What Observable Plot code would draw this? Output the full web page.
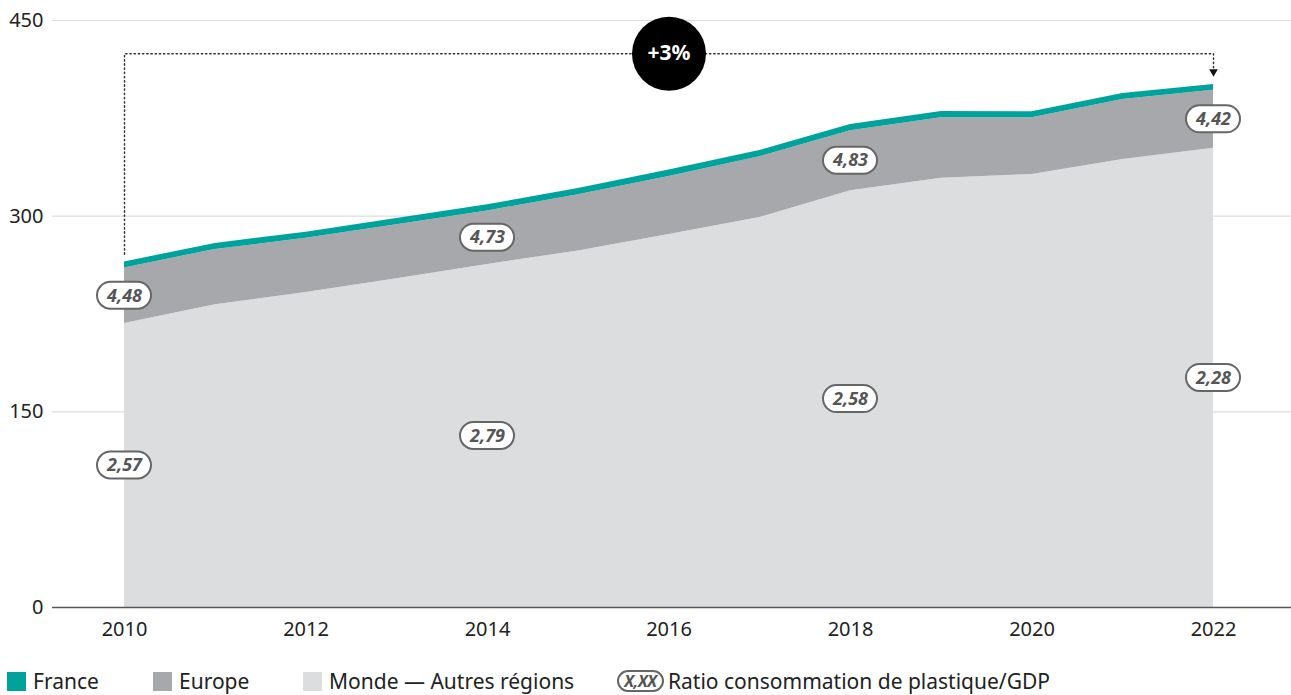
<!DOCTYPE html>
<html>
<head>
<meta charset="utf-8">
<script src="https://cdn.jsdelivr.net/npm/d3@7"></script>
<script src="https://cdn.jsdelivr.net/npm/@observablehq/plot@0.6"></script>
<style>
  body { margin: 0; background: #fff; font-family: "Noto Sans", sans-serif; }
  #chart svg { display: block; }
  #legend { position: relative; height: 45px; font-size: 21px; color: #222; }
  .item { position: absolute; top: 20px; height: 22px; display: flex; align-items: center; white-space: nowrap; }
  .sw { width: 19px; height: 19px; margin-right: 7px; }
  .pill { display: inline-flex; align-items: center; justify-content: center; box-sizing: border-box; width: 47px; height: 22px; border: 2px solid #666; border-radius: 12px; font-weight: bold; font-style: italic; color: #555; font-size: 16px; margin-right: 4px; letter-spacing: -0.3px; }
</style>
</head>
<body>
<div id="chart"></div>
<div id="legend"></div>
<script>
const years   = [2010, 2011, 2012, 2013, 2014, 2015, 2016, 2017, 2018, 2019, 2020, 2021, 2022];
const monde   = [217.7, 232, 241.5, 252, 263, 273.3, 286, 299, 319.5, 329, 332, 343.5, 352];
const europe  = [42.6, 42.5, 41.5, 41.5, 41, 43.2, 44.5, 46.5, 46, 46.5, 43.5, 46, 44.5];
const france  = [4.6, 4.6, 4.7, 4.7, 4.7, 4.7, 4.8, 4.8, 4.8, 4.8, 4.6, 4.6, 4.5];

const labelYears   = [2010, 2014, 2018, 2022];
const europeRatios = ["4,48", "4,73", "4,83", "4,42"];
const mondeRatios  = ["2,57", "2,79", "2,58", "2,28"];

const regions = ["Monde — Autres régions", "Europe", "France"];
const colors  = ["#dcdddf", "#a7a8ab", "#00a39b"];

const yTicks = [0, 150, 300, 450];
const xTicks = [2010, 2012, 2014, 2016, 2018, 2020, 2022];

const growthLabel = "+3%";
const bracketLevel = 424.5;
const growthYear = 2016;

// build long table
const data = [];
years.forEach((yr, i) => {
  data.push({year: yr, region: regions[0], value: monde[i]});
  data.push({year: yr, region: regions[1], value: europe[i]});
  data.push({year: yr, region: regions[2], value: france[i]});
});

const totals = years.map((_, i) => monde[i] + europe[i] + france[i]);

const labels = [];
labelYears.forEach((yr, k) => {
  const i = years.indexOf(yr);
  labels.push({year: yr, y: monde[i] + europe[i] / 2, label: europeRatios[k]});
  labels.push({year: yr, y: monde[i] / 2, label: mondeRatios[k]});
});

const first = 0, last = years.length - 1;
const bracket = [
  {x: years[first], y: totals[first] + 6},
  {x: years[first], y: bracketLevel},
  {x: years[last], y: bracketLevel},
  {x: years[last], y: totals[last] + 12}
];

function pillRender(w, h) {
  return function(index, scales, values, dimensions, context, next) {
    const g = next(index, scales, values, dimensions, context);
    const ns = "http://www.w3.org/2000/svg";
    const grp = document.createElementNS(ns, "g");
    for (const i of index) {
      const r = document.createElementNS(ns, "rect");
      r.setAttribute("x", values.x[i] - w / 2);
      r.setAttribute("y", values.y[i] - h / 2);
      r.setAttribute("width", w);
      r.setAttribute("height", h);
      r.setAttribute("rx", h / 2);
      r.setAttribute("fill", "#fff");
      r.setAttribute("stroke", "#666");
      r.setAttribute("stroke-width", 2);
      grp.appendChild(r);
    }
    const wrap = document.createElementNS(ns, "g");
    wrap.appendChild(grp);
    wrap.appendChild(g);
    return wrap;
  };
}

const plot = Plot.plot({
  width: 1291,
  height: 650,
  marginTop: 20,
  marginBottom: 43,
  marginLeft: 52,
  marginRight: 0,
  style: {fontFamily: "Noto Sans", fontSize: "20px", color: "#222", background: "#fff"},
  x: {domain: [2010, 2022], insetLeft: 72, insetRight: 78, ticks: xTicks, tickFormat: d => String(d), tickSize: 0, tickPadding: 14, label: null},
  y: {domain: [0, 450], ticks: yTicks, tickSize: 0, tickPadding: 9, label: null},
  color: {domain: regions, range: colors},
  marks: [
    Plot.ruleY(yTicks.filter(d => d > 0), {stroke: "#dddddd", strokeWidth: 1.2}),
    Plot.areaY(data, {x: "year", y: "value", fill: "region", order: regions, curve: "linear"}),
    Plot.ruleY([0], {stroke: "#555", strokeWidth: 1.5}),
    Plot.line(bracket, {x: "x", y: "y", stroke: "#333", strokeWidth: 1.5, strokeDasharray: "1.3 2.9", curve: "linear"}),
    Plot.dot([{x: years[last], y: totals[last] + 12}], {x: "x", y: "y", symbol: "triangle", rotate: 180, r: 3.2, fill: "#111", stroke: "none", dy: 3}),
    Plot.dot([{x: growthYear, y: bracketLevel}], {x: "x", y: "y", r: 37, fill: "#000"}),
    Plot.text([{x: growthYear, y: bracketLevel, t: growthLabel}], {x: "x", y: "y", text: "t", fill: "#fff", fontSize: 21, fontWeight: "bold"}),
    Plot.text(labels, {x: "year", y: "y", text: "label", fill: "#555", fontSize: 18, fontWeight: "bold", fontStyle: "italic", render: pillRender(54, 27)})
  ]
});
document.getElementById("chart").appendChild(plot);

// legend
const legend = document.getElementById("legend");
const legendX = [7, 153, 303];
regions.slice().reverse().forEach((name, k) => {
  const idx = regions.indexOf(name);
  const it = document.createElement("div");
  it.className = "item";
  it.style.left = legendX[k] + "px";
  it.innerHTML = `<span class="sw" style="background:${colors[idx]}"></span><span>${name}</span>`;
  legend.appendChild(it);
});
const ratioItem = document.createElement("div");
ratioItem.className = "item";
ratioItem.style.left = "617px";
ratioItem.innerHTML = `<span class="pill">X,XX</span><span>Ratio consommation de plastique/GDP</span>`;
legend.appendChild(ratioItem);
</script>
</body>
</html>
